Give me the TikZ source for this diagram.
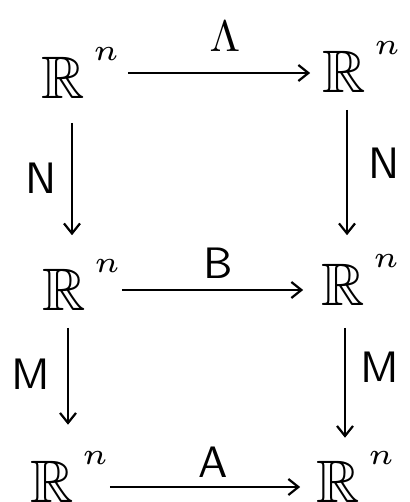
\documentclass[tikz,border=0pt]{standalone}
\usepackage{amssymb}
\usetikzlibrary{arrows.meta}
\newcommand{\bigR}{\scalebox{6}{$\mathbb{R}\rlap{\raisebox{0.6ex}{$^{\,\scriptscriptstyle n}$}}$}}
\begin{document}
\begin{tikzpicture}[x=1pt,y=-1pt,
  obj/.style={inner sep=2pt},
  lab/.style={inner sep=1pt},
  arr/.style={line width=2.4pt, -{Straight Barb[length=10pt,width=16pt,line width=2.2pt]}}]
\useasboundingbox (0,0) rectangle (409,502);
\node[obj] (a) at (63,73) {\bigR};
\node[obj] (b) at (344,67) {\bigR};
\node[obj] (c) at (64,285) {\bigR};
\node[obj] (d) at (343,280) {\bigR};
\node[obj] (e) at (52,477) {\bigR};
\node[obj] (f) at (338,477) {\bigR};
\node[lab] (l1) at (225,36) {\scalebox{4.4}{$\Lambda$}};
\node[lab] (l2) at (218,263) {\scalebox{4.4}{\sffamily B}};
\node[lab] (l3) at (213,462) {\scalebox{4.4}{\sffamily A}};
\node[lab] (l4) at (41,178) {\scalebox{4.4}{\sffamily N}};
\node[lab] (l5) at (384,163) {\scalebox{4.4}{\sffamily N}};
\node[lab] (l6) at (31,374) {\scalebox{4.4}{\sffamily M}};
\node[lab] (l7) at (380,367) {\scalebox{4.4}{\sffamily M}};
\draw[arr] ([xshift=41pt]a.east) -- ([xshift=-10pt,yshift=-6pt]b.west);
\draw[arr] ([xshift=34pt,yshift=-5pt]c.east) -- ([xshift=-16pt,yshift=-10pt]d.west);
\draw[arr] ([xshift=34pt,yshift=-10pt]e.east) -- ([xshift=-14pt,yshift=-10pt]f.west);
\draw[arr] ([xshift=9pt,yshift=-22.5pt]a.south) -- ([xshift=8pt,yshift=22.5pt]c.north);
\draw[arr] ([xshift=3pt,yshift=-15.5pt]b.south) -- ([xshift=4pt,yshift=17.5pt]d.north);
\draw[arr] ([xshift=4pt,yshift=-15.5pt]c.south) -- ([xshift=16pt,yshift=25pt]e.north);
\draw[arr] ([xshift=2pt,yshift=-20.5pt]d.south) -- ([xshift=7pt,yshift=12pt]f.north);
\end{tikzpicture}
\end{document}
